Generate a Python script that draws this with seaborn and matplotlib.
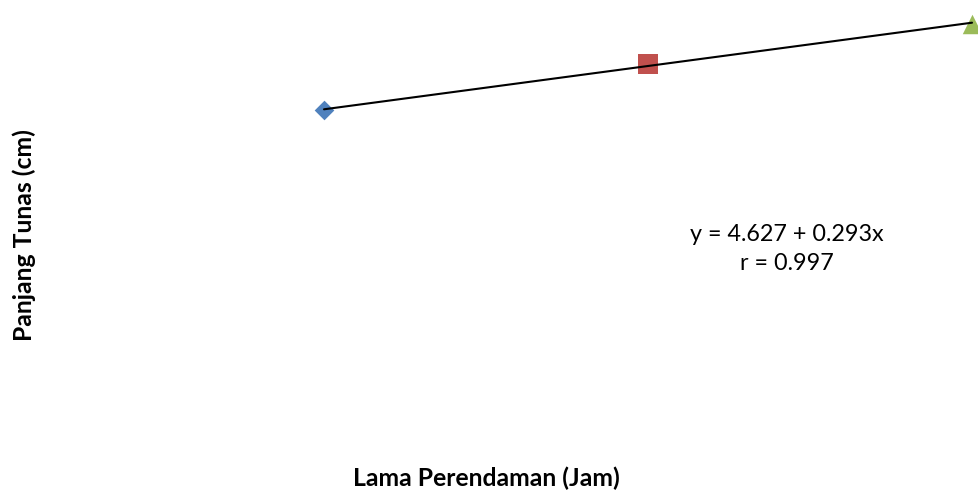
import matplotlib
matplotlib.use("Agg")
import matplotlib.pyplot as plt
import seaborn as sns
import pandas as pd

# soaking time (hours) vs shoot length (cm)
lama_jam = [2, 4, 6]
panjang_cm = [5.197, 5.831, 6.369]
kelompok = ["A", "B", "C"]
persamaan = "y = 4.627 + 0.293x\nr = 0.997"

warna = {"A": "#4F81BD", "B": "#C0504D", "C": "#9BBB59"}
penanda = {"A": "D", "B": "s", "C": "^"}
ukuran = {"A": 100, "B": 196, "C": 196}

df = pd.DataFrame({"x": lama_jam, "y": panjang_cm, "g": kelompok})

sns.set_theme(style="white")
plt.rcParams["font.family"] = ["Lato", "DejaVu Sans"]

fig = plt.figure(figsize=(9.79, 4.91), dpi=100)
ax = fig.add_axes([0, 0, 1, 1])

for g, sub in df.groupby("g"):
    sns.scatterplot(data=sub, x="x", y="y", marker=penanda[g], s=ukuran[g],
                    color=warna[g], linewidth=0, ax=ax, zorder=2, legend=False)

sns.regplot(data=df, x="x", y="y", scatter=False, ci=None, ax=ax,
            line_kws={"color": "black", "lw": 1.5, "zorder": 3})

ax.set_xlim(0, 6.043)
ax.set_ylim(0.048, 6.692)
ax.set_axis_off()

ax.text(0.8035, 0.493, persamaan, transform=ax.transAxes, ha="center", va="center",
        fontsize=16.8, linespacing=1.5, color="black")

fig.text(0.025, 0.521, "Panjang Tunas (cm)", rotation=90, ha="center", va="center",
         fontsize=17.8, fontweight="bold", color="black")
fig.text(0.497, 0.026, "Lama Perendaman (Jam)", ha="center", va="center",
         fontsize=17.8, fontweight="bold", color="black")

fig.savefig("out.png", dpi=100)
